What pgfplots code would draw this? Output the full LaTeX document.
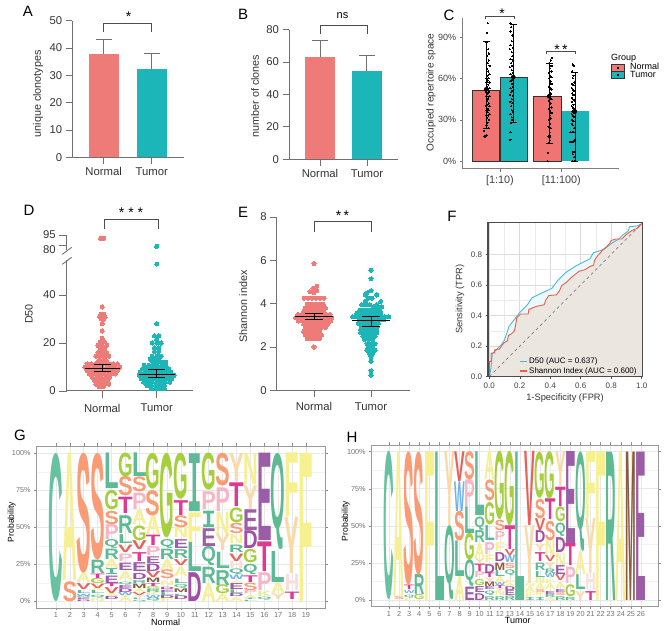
\documentclass[border=0pt]{standalone}
\usepackage{pgfplots}
\pgfplotsset{compat=1.18}
\usepackage{fontspec}
\setmainfont{Liberation Sans}
\newfontfamily\logomono{Liberation Mono}
\definecolor{cN}{HTML}{EF7B78}
\definecolor{cT}{HTML}{1CB5B8}
\definecolor{curveB}{HTML}{4DB8D0}
\definecolor{curveR}{HTML}{E8604C}
\definecolor{axgray}{HTML}{707070}
\definecolor{LA}{HTML}{F6EF94}\definecolor{LC}{HTML}{66C2A0}\definecolor{LD}{HTML}{A04FA6}
\definecolor{LE}{HTML}{9C5DA8}\definecolor{LF}{HTML}{F7F08F}\definecolor{LG}{HTML}{A5CF3C}
\definecolor{LH}{HTML}{FBDDD8}\definecolor{LI}{HTML}{5DBA98}\definecolor{LK}{HTML}{E3EC9A}
\definecolor{LL}{HTML}{5DBA98}\definecolor{LM}{HTML}{8C5A3C}\definecolor{LN}{HTML}{F5EE94}
\definecolor{LP}{HTML}{F6B6C6}\definecolor{LQ}{HTML}{5DBA92}\definecolor{LR}{HTML}{5DBA92}
\definecolor{LS}{HTML}{F99C76}\definecolor{LT}{HTML}{DE3A94}\definecolor{LV}{HTML}{E8605A}
\definecolor{LW}{HTML}{6EB2E8}\definecolor{LY}{HTML}{FAD9A6}
\newcommand\fs[1]{\fontsize{#1}{#1}\selectfont}
\newcommand\T[4][]{\node[inner sep=0pt,#1] at ({#2*1pt},{(631-#3)*1pt}) {#4};}
\newcommand\logoglyph[2]{\resizebox*{#1pt}{#2pt}{\bfseries\textcolor{L\pgfplotspointmeta}{\if I\pgfplotspointmeta{\logomono I}\else\pgfplotspointmeta\fi}}}
\pgfplotsset{
  /pgf/number format/assume math mode=true,
  every axis/.append style={scale only axis, clip=false},
  yl/.style 2 args={ylabel style={at={(axis description cs:#1,#2)},anchor=center}},
  xl/.style 2 args={xlabel style={at={(axis description cs:#1,#2)},anchor=center}},
  clean/.style={axis x line*=bottom, axis y line*=left, axis line style={-,axgray,line width=1pt},
    tick style={axgray,line width=0.9pt}, tick align=outside, major tick length=6.5pt,
    tick label style={font=\fs{11.3},text=black!80}, label style={font=\fs{10.8},text=black!80},
    xtick={1,2}, xticklabels={Normal,Tumor}, xmin=0.346, xmax=2.673, ymin=0},
  bar1/.style={ybar, bar shift=0pt, bar width=#1pt, draw=none, fill=cN,
    error bars/.cd, y dir=plus, y explicit, error bar style={axgray,line width=1pt}, error mark options={rotate=90,axgray,line width=1pt,mark size=8pt}},
  bar2/.style={ybar, bar shift=0pt, bar width=#1pt, draw=none, fill=cT,
    error bars/.cd, y dir=plus, y explicit, error bar style={axgray,line width=1pt}, error mark options={rotate=90,axgray,line width=1pt,mark size=8pt}},
  brk/.style={black!70,line width=0.8pt},
  dotsN/.style={only marks, cN, mark=*, mark size=2.05pt, mark options={draw=cN,fill=cN,line width=0pt}},
  dotsT/.style={only marks, cT, mark=*, mark size=2.05pt, mark options={draw=cT,fill=cT,line width=0pt}},
  cdot/.style={only marks, black, mark=*, mark size=0.6pt, mark options={draw=black,fill=black,line width=0pt}},
  ln/.style={black,line width=0.7pt},
  logopanel/.style={axis line style={black!40,line width=0.9pt}, tick style={black!45,line width=0.5pt}, tick align=outside,
    major tick length=2.5pt, minor tick length=0pt, grid=both, major grid style={black!9,line width=0.6pt}, minor grid style={black!5,line width=0.4pt},
    ytick={0,25,50,75,100}, yticklabels={0\%,25\%,50\%,75\%,100\%}, minor y tick num=1, xticklabel style={font=\fs{7.3},text=black!55},
    yticklabel style={font=\fs{7.3},text=black!55}, xticklabel shift=-1.5pt},
  logo/.style 2 args={only marks, mark=none, point meta=explicit symbolic,
    visualization depends on={(\thisrow{hi}-\thisrow{lo})*#2 \as \hh},
    nodes near coords={\logoglyph{#1}{\hh}},
    every node near coord/.append style={anchor=south,inner sep=0pt,outer sep=0pt}},
}
\begin{document}
\begin{tikzpicture}[x=1pt,y=1pt]
\path[use as bounding box] (0,0) rectangle (669pt,631pt);

% A
\begin{axis}[clean, at={(72.3pt,473.7pt)}, anchor=south west, width=111.7pt, height=136.6pt, ymax=50, ytick={0,10,...,50},
  ylabel={unique clonotypes}, yl={-0.307}{0.465}]
\addplot[bar1=30] coordinates {(1,37.8) +- (0,5.2)};
\addplot[bar2=30] coordinates {(2,32.2) +- (0,5.8)};
\addplot[brk] coordinates {(1,46)(1,49)(2,49)(2,46)};
\end{axis}

% B
\begin{axis}[clean, at={(289pt,471.7pt)}, anchor=south west, width=109pt, height=129.6pt, xmin=0.34, xmax=2.66, ymax=80, ytick={0,20,...,80},
  ylabel={number of clones}, yl={-0.312}{0.488}]
\addplot[bar1=29.5] coordinates {(1,63) +- (0,10.3)};
\addplot[bar2=29.5] coordinates {(2,54.7) +- (0,9.3)};
\addplot[brk] coordinates {(1,77.6)(1,82.5)(2,82.5)(2,77.6)};
\end{axis}

% C
\begin{axis}[at={(462.7pt,462.3pt)}, anchor=south west, width=156.6pt, height=150.4pt,
  axis x line*=bottom, axis y line*=left, axis line style={-,black!50,line width=1pt}, tick style={black!55,line width=0.6pt}, tick align=outside, major tick length=3pt,
  xmin=0.392, xmax=2.946, ymin=-5.36, ymax=103.5, ytick={0,30,60,90}, yticklabels={0\%,30\%,60\%,90\%}, xtick={1,2}, xticklabels={[1:10),[11:100)},
  xticklabel style={font=\fs{10.8},text=black!75}, yticklabel style={font=\fs{9},text=black!75}, ylabel={Occupied repertoire space}, ylabel style={font=\fs{10},text=black!80}, yl={-0.202}{0.507}]
\addplot[ybar, bar shift=0pt, bar width=27.5pt, fill=cN!95!red, draw=black!80, line width=0.7pt] coordinates {(0.772,51.5)};
\addplot[ybar, bar shift=0pt, bar width=27.5pt, fill=cT, draw=black!80, line width=0.7pt] coordinates {(1.228,60.9)};
\addplot[ybar, bar shift=0pt, bar width=27.5pt, fill=cN!95!red, draw=black!80, line width=0.7pt] coordinates {(1.772,46.9)};
\addplot[ybar, bar shift=0pt, bar width=27.5pt, fill=cT, draw=none] coordinates {(2.228,36.2)};
\addplot[cdot] coordinates {(0.80,100)(0.79,93)(0.78,86)(0.81,81)(0.82,78)(0.79,76)(0.82,73)(0.80,71)(0.83,69)(0.79,67)(0.81,65)(0.83,63)(0.80,62)(0.78,60)(0.82,60)(0.80,58.5)(0.83,57)(0.78,57)(0.81,55.5)(0.79,54)(0.83,53)(0.80,52)(0.77,50.5)(0.82,50.5)(0.80,49)(0.83,47)(0.78,47)(0.81,45.5)(0.79,44)(0.82,42)(0.80,41)(0.77,40)(0.83,40)(0.80,38)(0.78,37)(0.82,37)(0.80,35.5)(0.83,34)(0.78,33)(0.81,33)(0.79,31.5)(0.82,30)(0.80,28)(0.78,26)(0.81,24)(0.74,22)(0.78,19)(0.74,18)(0.77,18)};
\addplot[cdot] coordinates {(1.17,100)(1.18,97)(1.17,94)(1.20,91)(1.19,87)(1.17,84)(1.21,82)(1.16,81)(1.19,79)(1.20,76)(1.17,74)(1.21,73)(1.18,71)(1.20,69)(1.16,68)(1.19,66)(1.21,64)(1.17,63)(1.19,61)(1.20,59)(1.17,58)(1.19,56)(1.21,54)(1.17,53)(1.20,51)(1.18,50)(1.16,48)(1.21,47)(1.19,45)(1.17,43)(1.20,42)(1.18,40)(1.19,37)(1.21,36)(1.17,34)(1.19,32)(1.20,30)(1.18,28)(1.17,21)(1.17,15.5)};
\addplot[cdot] coordinates {(1.85,75)(1.83,73)(1.80,71)(1.84,69)(1.81,67)(1.84,65)(1.80,64)(1.82,62)(1.84,61)(1.80,60)(1.83,58)(1.81,57)(1.84,56)(1.80,54)(1.82,53)(1.84,52)(1.81,50)(1.83,49)(1.80,48)(1.82,46)(1.84,45)(1.80,44)(1.83,42)(1.81,41)(1.84,39)(1.80,38)(1.82,36)(1.84,35)(1.81,33)(1.83,31)(1.80,30)(1.82,27)(1.79,25)(1.83,24)(1.81,21)(1.79,18)(1.82,18)(1.81,15)(1.79,13)(1.78,6)(1.78,0)};
\addplot[cdot] coordinates {(2.19,70)(2.21,69)(2.18,65)(2.20,62)(2.19,60)(2.21,57)(2.18,56)(2.20,55)(2.17,53)(2.19,52)(2.21,51)(2.18,49)(2.20,48)(2.17,46)(2.19,45)(2.21,44)(2.18,43)(2.20,41)(2.17,40)(2.19,39)(2.21,38)(2.18,36)(2.20,35)(2.17,34)(2.19,33)(2.21,32)(2.18,30)(2.20,29)(2.17,27)(2.19,26)(2.21,24)(2.20,21)(2.18,21)(2.15,21)(2.21,15)(2.19,14)(2.15,14)(2.21,7)(2.19,7)(2.19,5)(2.21,3)(2.19,0)(2.21,0)};
\addplot[only marks, mark=none, error bars/.cd, y dir=both, y explicit, error bar style={black,line width=0.7pt}, error mark options={rotate=90,black,line width=0.7pt,mark size=3.5pt}]
  coordinates {(0.772,52) += (0,34.5) -= (0,28) (1.217,61) += (0,38.3) -= (0,33) (1.80,47) += (0,24) -= (0,34) (2.223,36) += (0,28.3) -= (0,36)};
\addplot[brk] coordinates {(0.76,102.9)(0.76,104.8)(1.24,104.8)(1.24,102.9)};
\addplot[brk] coordinates {(1.76,77.5)(1.76,79.2)(2.235,79.2)(2.235,77.5)};
% legend keys
\addplot[fill=cN,draw=black!80,line width=0.7pt] coordinates {(2.822,65.2)(3.023,65.2)(3.023,70.2)(2.822,70.2)} -- cycle;
\addplot[fill=cT,draw=black!80,line width=0.7pt] coordinates {(2.822,60.1)(3.023,60.1)(3.023,65.2)(2.822,65.2)} -- cycle;
\addplot[cdot] coordinates {(2.92,67.7)(2.92,62.6)};
\end{axis}

% D lower
\begin{axis}[clean, at={(66.7pt,240pt)}, anchor=south west, width=126.6pt, height=131pt, ymax=54.6, ytick={0,20,40},
  ylabel={D50}, yl={-0.298}{0.588}, major tick length=7.5pt, xticklabel shift=2pt]
\addplot[dotsN] coordinates {(1,35)(0.97,32)(1.03,32)(0.95,31)(1,31.2)(1.05,30.8)(0.98,30)(1.02,29.8)(1,28)(1,25)
(1,22)(0.96,20.5)(1.04,20.5)(0.92,19)(1,19)(1.08,19)(0.96,17.5)(1.04,17.5)(0.92,16)(1,16)(1.08,16)(0.88,14.5)(0.96,14.5)(1.04,14.5)(1.12,14.5)
(0.93,12.6)(1,12.6)(1.07,12.6)
(0.72,11.3)(0.8,11.3)(0.88,11.3)(0.96,11.3)(1.04,11.3)(1.12,11.3)(1.2,11.3)(1.28,11.3)
(0.68,9.9)(0.76,9.9)(0.84,9.9)(0.92,9.9)(1,9.9)(1.08,9.9)(1.16,9.9)(1.24,9.9)(1.32,9.9)
(0.72,8.5)(0.8,8.5)(0.88,8.5)(0.96,8.5)(1.04,8.5)(1.12,8.5)(1.2,8.5)(1.28,8.5)
(0.76,7.1)(0.84,7.1)(0.92,7.1)(1,7.1)(1.08,7.1)(1.16,7.1)(1.24,7.1)
(0.82,5.7)(0.9,5.7)(0.98,5.7)(1.06,5.7)(1.14,5.7)
(0.86,4.3)(0.94,4.3)(1.02,4.3)(1.1,4.3)
(0.88,2.9)(0.96,2.9)(1.04,2.9)(1.12,2.9)
(0.94,1.8)(1.02,1.8)};
\addplot[dotsT] coordinates {(2,52.9)(2,28)(1.96,23)(2.04,23)(2,21.5)(1.92,20)(2,20)(2.08,20)(1.96,18)(2.04,18)(1.96,16.5)(2.04,16.5)(1.92,14.5)(2,14.5)(2.08,14.5)(1.88,13.2)(1.96,13.2)(2.04,13.2)
(1.93,12)(2.01,12)(2.09,12)(2.17,12)
(1.77,10.7)(1.85,10.7)(1.93,10.7)(2.01,10.7)(2.09,10.7)(2.17,10.7)
(1.74,9.3)(1.82,9.3)(1.9,9.3)(1.98,9.3)(2.06,9.3)(2.14,9.3)(2.22,9.3)
(1.7,7.9)(1.78,7.9)(1.86,7.9)(1.94,7.9)(2.02,7.9)(2.1,7.9)(2.18,7.9)(2.26,7.9)
(1.68,6.5)(1.76,6.5)(1.84,6.5)(1.92,6.5)(2,6.5)(2.08,6.5)(2.16,6.5)(2.24,6.5)(2.32,6.5)
(1.72,5.1)(1.8,5.1)(1.88,5.1)(1.96,5.1)(2.04,5.1)(2.12,5.1)(2.2,5.1)(2.28,5.1)
(1.76,3.7)(1.84,3.7)(1.92,3.7)(2,3.7)(2.08,3.7)(2.16,3.7)(2.24,3.7)
(1.82,2.3)(1.9,2.3)(1.98,2.3)(2.06,2.3)(2.14,2.3)
(1.9,1)(1.98,1)(2.06,1)(2.14,1)};
\end{axis}
% D summary lines, over the dots
\begin{axis}[hide axis, at={(66.7pt,240pt)}, anchor=south west, width=126.6pt, height=131pt, xmin=0.346, xmax=2.673, ymin=0, ymax=54.6]
\addplot[ln] coordinates {(0.68,9.4)(1.32,9.4)};
\addplot[ln] coordinates {(0.84,11.2)(1.16,11.2)};
\addplot[ln] coordinates {(0.84,8)(1.16,8)};
\addplot[ln] coordinates {(1,8)(1,11.2)};
\addplot[ln] coordinates {(1.67,7)(2.33,7)};
\addplot[ln] coordinates {(1.84,9)(2.16,9)};
\addplot[ln] coordinates {(2,5.5)(2,9)};
\addplot[ln] coordinates {(1.84,5.5)(2.16,5.5)};
\end{axis}
% D upper
\begin{axis}[at={(66.7pt,381pt)}, anchor=south west, width=126.6pt, height=15pt, axis x line=none, axis y line*=left, axis line style={-,axgray,line width=1pt},
  tick style={axgray,line width=0.9pt}, tick align=outside, major tick length=7.5pt, tick label style={font=\fs{11.3},text=black!80},
  xmin=0.346, xmax=2.673, ymin=72.5, ymax=95, ytick={80,95}, yticklabels={{\raisebox{-8.5pt}[0pt][0pt]{80}},95}]
\addplot[dotsN] coordinates {(0.97,90)(1,90)(1.03,90)};
\addplot[dotsT] coordinates {(2,78)};
\addplot[brk] coordinates {(1.03,104)(1.03,118)(2.03,118)(2.03,104)};
\end{axis}
\draw[axgray,line width=0.9pt] (62.3pt,376.7pt)--(71.7pt,383.7pt);
\draw[axgray,line width=0.9pt] (62.3pt,366.7pt)--(71.7pt,373.7pt);

% E
\begin{axis}[clean, at={(276.7pt,240.7pt)}, anchor=south west, width=133.3pt, height=173.3pt, xmin=0.346, xmax=2.684, ymax=8, ytick={0,2,...,8},
  ylabel={Shannon index}, yl={-0.25}{0.484}, xticklabel shift=2pt]
\addplot[dotsN] coordinates {(1,5.85)(1.05,4.8)(0.98,4.7)(1.05,4.6)(0.93,4.55)(1,4.5)
(0.83,4.25)(0.9,4.25)(0.97,4.25)(1.04,4.25)(1.11,4.25)(1.18,4.25)
(0.88,3.98)(0.95,3.98)(1.02,3.98)(1.09,3.98)(1.16,3.98)
(0.85,3.8)(0.92,3.8)(0.99,3.8)(1.06,3.8)(1.13,3.8)(1.2,3.8)
(0.82,3.65)(0.89,3.65)(0.96,3.65)(1.03,3.65)(1.1,3.65)(1.17,3.65)
(0.72,3.5)(0.79,3.5)(0.86,3.5)(0.93,3.5)(1,3.5)(1.07,3.5)(1.14,3.5)(1.21,3.5)(1.28,3.5)
(0.68,3.35)(0.75,3.35)(0.82,3.35)(0.89,3.35)(0.96,3.35)(1.03,3.35)(1.1,3.35)(1.17,3.35)(1.24,3.35)(1.31,3.35)
(0.73,3.2)(0.8,3.2)(0.87,3.2)(0.94,3.2)(1.01,3.2)(1.08,3.2)(1.15,3.2)(1.22,3.2)(1.29,3.2)
(0.82,3.05)(0.89,3.05)(0.96,3.05)(1.03,3.05)(1.1,3.05)(1.17,3.05)(1.24,3.05)
(0.85,2.9)(0.92,2.9)(0.99,2.9)(1.06,2.9)(1.13,2.9)(1.2,2.9)
(0.82,2.72)(0.89,2.72)(0.96,2.72)(1.03,2.72)(1.1,2.72)
(0.85,2.55)(0.92,2.55)(0.99,2.55)(1.06,2.55)(1.13,2.55)
(0.88,2.38)(0.95,2.38)(1.02,2.38)(1.09,2.38)(1,2)};
\addplot[dotsT] coordinates {(2,5.55)(2,5.15)(2,4.6)(1.93,4.5)(1.9,4.4)(2.1,4.4)(1.95,4.25)(2.02,4.25)(1.9,4.1)(2.17,4.1)
(1.84,3.95)(1.91,3.95)(1.98,3.95)(2.1,3.95)(2.05,3.85)(2.12,3.85)(2.19,3.85)
(1.8,3.7)(1.87,3.7)(1.94,3.7)(2.01,3.7)(2.08,3.7)(2.15,3.7)
(1.75,3.55)(1.82,3.55)(1.89,3.55)(1.96,3.55)(2.03,3.55)(2.1,3.55)(2.17,3.55)
(1.68,3.4)(1.75,3.4)(1.82,3.4)(1.89,3.4)(1.96,3.4)(2.03,3.4)(2.1,3.4)(2.17,3.4)(2.24,3.4)(2.31,3.4)
(1.8,3.25)(1.87,3.25)(1.94,3.25)(2.01,3.25)(2.08,3.25)(2.15,3.25)(2.22,3.25)
(1.78,3.1)(1.85,3.1)(1.92,3.1)(1.99,3.1)(2.06,3.1)(2.13,3.1)
(1.83,2.95)(1.9,2.95)(1.97,2.95)(2.04,2.95)(2.11,2.95)
(1.82,2.8)(1.89,2.8)(1.96,2.8)(2.03,2.8)(2.1,2.8)
(1.82,2.65)(1.89,2.65)(1.96,2.65)(2.03,2.65)(2.1,2.65)
(1.86,2.5)(1.93,2.5)(2,2.5)(2.07,2.5)
(1.89,2.35)(1.96,2.35)(2.03,2.35)
(1.93,2.15)(2,2.15)(2.07,2.15)(1.96,2)(2.03,2)
(1.93,1.85)(2,1.85)(2.07,1.85)(1.97,1.7)(2.03,1.7)(2,1.55)(2,1.35)(2,0.9)(2,0.7)};
\addplot[brk] coordinates {(1.005,7.3)(1.005,7.8)(2.01,7.8)(2.01,7.3)};
\end{axis}
% E summary lines, over the dots
\begin{axis}[hide axis, at={(276.7pt,240.7pt)}, anchor=south west, width=133.3pt, height=173.3pt, xmin=0.346, xmax=2.684, ymin=0, ymax=8]
\addplot[ln] coordinates {(0.67,3.4)(1.33,3.4)};
\addplot[ln] coordinates {(0.84,3.55)(1.16,3.55)};
\addplot[ln] coordinates {(0.84,3.27)(1.16,3.27)};
\addplot[ln] coordinates {(1,3.27)(1,3.55)};
\addplot[ln] coordinates {(1.67,3.22)(2.33,3.22)};
\addplot[ln] coordinates {(1.84,3.4)(2.16,3.4)};
\addplot[ln] coordinates {(1.84,2.95)(2.16,2.95)};
\addplot[ln] coordinates {(2,2.95)(2,3.4)};
\end{axis}

% F
\begin{axis}[at={(488pt,254.3pt)}, anchor=south west, width=154.7pt, height=154.4pt, xmin=-0.0085, xmax=1.0066, ymin=0, ymax=1.009,
  xtick={0,0.2,...,1}, ytick={0,0.2,...,0.8}, minor tick num=1, grid=both, major grid style={black!14,line width=0.7pt}, minor grid style={black!8,line width=0.4pt},
  axis line style={black!70,line width=1.1pt}, tick style={black!70,line width=0.5pt}, tick align=outside, major tick length=2.5pt, minor tick length=0pt,
  xtick pos=bottom, ytick pos=left,
  xticklabels={0.0,0.2,0.4,0.6,0.8,1.0}, yticklabels={0.0,0.2,0.4,0.6,0.8},
  tick label style={font=\fs{8},text=black!75}, xlabel={1-Specificity (FPR)}, ylabel={Sensitivity (TPR)}, label style={font=\fs{9.3},text=black!80},
  xl={0.498}{-0.136}, yl={-0.181}{0.503}]
\addplot[fill=cyan!8!white,draw=none] coordinates {(0,0)(0.01,0.05)(0.02,0.15)(0.05,0.18)(0.08,0.21)(0.1,0.24)(0.13,0.33)(0.17,0.38)(0.2,0.42)(0.25,0.47)(0.28,0.515)(0.33,0.54)(0.41,0.577)(0.45,0.63)(0.5,0.68)(0.57,0.725)(0.62,0.75)(0.66,0.77)(0.683,0.81)(0.75,0.83)(0.8,0.87)(0.85,0.9)(0.88,0.93)(0.91,0.95)(0.92,0.98)(0.97,0.985)(1,1)(1,0)} -- cycle;
\addplot[fill={rgb,255:red,235;green,229;blue,222},fill opacity=0.92,draw=none] coordinates {(0,0)(0,0.1)(0.012,0.1)(0.012,0.155)(0.035,0.155)(0.035,0.175)(0.065,0.18)(0.08,0.2)(0.095,0.22)(0.12,0.235)(0.125,0.27)(0.145,0.28)(0.165,0.3)(0.175,0.35)(0.18,0.385)(0.205,0.41)(0.255,0.41)(0.26,0.44)(0.285,0.45)(0.31,0.46)(0.36,0.47)(0.37,0.5)(0.39,0.53)(0.44,0.535)(0.46,0.56)(0.475,0.595)(0.51,0.62)(0.54,0.65)(0.565,0.67)(0.59,0.69)(0.63,0.7)(0.66,0.72)(0.685,0.73)(0.69,0.76)(0.71,0.79)(0.73,0.81)(0.745,0.83)(0.77,0.85)(0.79,0.87)(0.8,0.89)(0.83,0.9)(0.87,0.9)(0.9,0.93)(0.935,0.955)(0.97,0.97)(1,1)(1,0)} -- cycle;
\addplot[black!50,dashed,line width=0.7pt] coordinates {(0,0)(1,1)};
\addplot[curveB,line width=0.9pt] coordinates {(0,0)(0.01,0.05)(0.02,0.15)(0.05,0.18)(0.08,0.21)(0.1,0.24)(0.13,0.33)(0.17,0.38)(0.2,0.42)(0.25,0.47)(0.28,0.515)(0.33,0.54)(0.41,0.577)(0.45,0.63)(0.5,0.68)(0.57,0.725)(0.62,0.75)(0.66,0.77)(0.683,0.81)(0.75,0.83)(0.8,0.87)(0.85,0.9)(0.88,0.93)(0.91,0.95)(0.92,0.98)(0.97,0.985)(1,1)};
\addplot[curveR,line width=0.9pt] coordinates {(0,0)(0,0.1)(0.012,0.1)(0.012,0.155)(0.035,0.155)(0.035,0.175)(0.065,0.18)(0.08,0.2)(0.095,0.22)(0.12,0.235)(0.125,0.27)(0.145,0.28)(0.165,0.3)(0.175,0.35)(0.18,0.385)(0.205,0.41)(0.255,0.41)(0.26,0.44)(0.285,0.45)(0.31,0.46)(0.36,0.47)(0.37,0.5)(0.39,0.53)(0.44,0.535)(0.46,0.56)(0.475,0.595)(0.51,0.62)(0.54,0.65)(0.565,0.67)(0.59,0.69)(0.63,0.7)(0.66,0.72)(0.685,0.73)(0.69,0.76)(0.71,0.79)(0.73,0.81)(0.745,0.83)(0.77,0.85)(0.79,0.87)(0.8,0.89)(0.83,0.9)(0.87,0.9)(0.9,0.93)(0.935,0.955)(0.97,0.97)(1,1)};
\addplot[curveB,line width=1.1pt] coordinates {(0.2,0.1)(0.25,0.1)};
\addplot[curveR,line width=1.1pt] coordinates {(0.2,0.037)(0.25,0.037)};
\draw[black!70,line width=1.1pt] (rel axis cs:0,0) rectangle (rel axis cs:1,1);
\end{axis}

% G
\begin{axis}[logopanel, at={(36.7pt,23pt)}, anchor=south west, width=288.3pt, height=162pt, xmin=-0.39, xmax=20.37, ymin=-4.5, ymax=104.9,
  xtick={1,...,19}, xlabel={\fs{9}Normal}, ylabel={\fs{8.6}Probability}, xl={0.4475}{-0.0864}, yl={-0.0867}{0.531}]
\addplot[logo={14.6}{1.48}] table[x=x,y=lo,meta=l] {
x lo hi l
1 0 100 C
2 0 13.5 S
2 14 100 A
3 0 1 D
3 1 2 E
3 2 3.5 Q
3 3.5 5 W
3 5 7 L
3 8 12 V
3 12.5 19 A
3 19 100 S
4 0 2 N
4 2 4 Q
4 5 7 L
4 7 9 A
4 9 12 V
4 12 15.5 G
4 15.5 18.5 T
4 19 28 R
4 28 100 S
5 1 3 D
5 3 5 A
5 5 9 V
5 10 12 T
5 12 17 E
5 18 22 I
5 22 28 A
5 28 35 R
5 36 42 Q
5 42 52 P
5 52 61 S
5 62 75 G
5 76 100 L
6 0 2.5 A
6 2.5 4 Y
6 4 6 W
6 6 8.5 D
6 9 11 E
6 11 13 Q
6 14 20 A
6 21 26 E
6 27 32 P
6 33 38 V
6 39 45 L
6 46 58 R
6 59 70 T
6 71 84 S
6 84 100 G
7 0 1 Q
7 1 2 L
7 2.5 4 Y
7 4 6 V
7 6 8 A
7 8.5 11.5 M
7 12 14 R
7 15 19 D
7 20 26 E
7 27 33 T
7 35 41 V
7 41 51 G
7 52 62 A
7 62 73 P
7 74 84 S
7 84 100 L
8 0 2 Q
8 2 4 W
8 4 6 K
8 6 8 R
8 8 10 G
8 10 12 T
8 13 16 M
8 16 20 V
8 20 25 D
8 25.5 30 E
8 31 37 P
8 38 45 T
8 45 58 A
8 58 75 S
8 76 100 G
9 0 2 F
9 2 4 D
9 4 6 L
9 6 7.5 E
9 8 9.5 D
9 11 14 N
9 15 21 S
9 21 28 A
9 28 35 R
9 36 42 Q
9 43 100 G
10 1 3.5 D
10 3.5 5 L
10 6 8.5 M
10 9 11.5 Q
10 12 15 L
10 17 23 A
10 24 28 V
10 29 35 R
10 36 42 E
10 43 50 N
10 50 58 S
10 58 68 T
10 69 100 G
11 0 19.5 D
11 20 40 L
11 40 60 F
11 61 100 I
12 0 12 A
12 12 23 R
12 24 37 Q
12 37 49 E
12 50 61 I
12 62 74 P
12 75 100 G
13 0 5 A
13 5 11 G
13 11 21 R
13 22 33 L
13 34 45 Y
13 45 60 N
13 61 77 P
13 78 100 S
14 0 2.5 A
14 3 5 D
14 5.5 8 L
14 8 12 E
14 12 13.5 A
14 15 18 W
14 18 22 Q
14 22 27 H
14 27 32 V
14 33 38 R
14 39 45 N
14 46 53 S
14 53 63 G
14 64 80 T
14 81 100 Y
15 0 0.8 L
15 1 2 I
15 2 4 A
15 5 7 P
15 7 12 S
15 12.5 17 T
15 18 25 Q
15 26 35 G
15 36 48 D
15 48 62 E
15 62 78 Y
15 79 100 N
16 1 3 Q
16 3.5 7 K
16 7 19 P
16 20 40 T
16 41 100 E
17 1 5 Y
17 5 12 A
17 13 34 L
17 35 100 Q
18 1 6 T
18 7 18 H
18 19 57 Y
18 57 100 F
19 0 100 F
};
\end{axis}

% H
\begin{axis}[logopanel, at={(371.7pt,24.3pt)}, anchor=south west, width=286.3pt, height=161.7pt, xmin=-0.716, xmax=27.69, ymin=-4.5, ymax=104.5,
  xtick={1,...,26}, xlabel={\fs{9}Tumor}, ylabel={\fs{8.6}Probability}, xl={0.51}{-0.0844}, yl={-0.0908}{0.53}]
\addplot[logo={10.6}{1.483}] table[x=x,y=lo,meta=l] {
x lo hi l
1 0 100 C
2 0 2 S
2 2 100 A
3 0 1.5 F
3 1.5 3.5 Q
3 4.5 6.5 W
3 7 10 T
3 10 100 S
4 0 3.5 G
4 3.5 17 R
4 17 100 S
5 0 100 F
6 0 100 L
7 0 50 Q
7 50 100 Y
8 0 16 A
8 16 40 L
8 40 60 S
8 60 80 W
8 80 100 V
9 0 9 E
9 9 27 Q
9 27 45 G
9 45 63 L
9 63 81 P
9 81 100 S
10 0 4.5 D
10 5 9 E
10 10 14 G
10 15 19 P
10 19 24 T
10 24 28 Y
10 28 38 A
10 39 47 R
10 47 56 Q
10 57 100 L
11 0 2.5 R
11 3 6 Q
11 7 9 E
11 9 12 M
11 12 15 Y
11 15 18 T
11 18 24 D
11 25 30 F
11 31 39 P
11 40 50 L
11 51 66 G
11 67 81 S
11 81 100 A
12 0 2.5 R
12 3 6 N
12 6 8 Y
12 8 10 T
12 10 12 W
12 12 16 A
12 16 20 L
12 20 25 M
12 26 32 D
12 33 39 F
12 40 46 P
12 47 54 S
12 54 100 G
13 0 3 R
13 3 6.5 E
13 6.5 9 D
13 9 11 A
13 11 13 F
13 16 20 Q
13 21 24.5 S
13 25 30 W
13 30 34 V
13 34 50 T
13 50 100 G
14 0 100 L
15 0 2 I
15 2 5 F
15 5 9 A
15 9 11 N
15 11 50 Y
15 50 100 V
16 0 2 I
16 3 5 F
16 5 7 S
16 7 11 A
16 11 15 N
16 15 19 L
16 20 25 R
16 26 32 T
16 33 38 Y
16 39 47 D
16 47 55 V
16 55 68 S
16 69 100 G
17 0 2 A
17 2 4 R
17 4 6 E
17 7 11 A
17 11 13.5 F
17 15 18 W
17 18 21 R
17 21 25 Y
17 26 30 V
17 30 40 N
17 40 53 S
17 54 68 T
17 68 100 G
18 0 2.5 R
18 3 5 S
18 5 7 E
18 8 12 A
18 13 17 V
18 17 23 E
18 23 31 N
18 32 42 D
18 43 52 Q
18 53 63 G
18 63 76 T
18 76 100 Y
19 0 2 R
19 2 10 G
19 11 22 P
19 23 38 T
19 38 100 E
20 0 6 Y
20 7 17 L
20 17 32 A
20 33 100 Q
21 0 6 T
21 7 18 H
21 18 55 Y
21 55 100 F
22 0 100 F
23 0 100 R
24 0 100 A
25 0 100 M
26 0 100 E
};
\end{axis}

% panel letters and annotations
\T{28}{11}{\fs{15}A}
\T{243}{14}{\fs{15}B}
\T{449}{15}{\fs{15}C}
\T{29}{210}{\fs{15}D}
\T{243}{212}{\fs{15}E}
\T{452}{216}{\fs{15}F}
\T{20}{435}{\fs{15}G}
\T{352}{437}{\fs{15}H}
\T{128.5}{16.5}{\fs{14}*}
\T{342.5}{16}{\fs{11}ns}
\T{502}{13.5}{\fs{14}*}
\T{561}{50}{\fs{14}*\,*}
\T{131}{213}{\fs{14}*\;*\;*}
\T{342.5}{216}{\fs{14}*\,*}
\T[anchor=west]{611}{58.5}{\fs{9}Group}
\T[anchor=west]{630}{66.5}{\fs{9}Normal}
\T[anchor=west]{630}{74}{\fs{9}Tumor}
\T[anchor=west]{529}{361}{\fs{8}D50 (AUC = 0.637)}
\T[anchor=west]{529}{371}{\fs{8}Shannon Index (AUC = 0.600)}
\end{tikzpicture}
\end{document}
